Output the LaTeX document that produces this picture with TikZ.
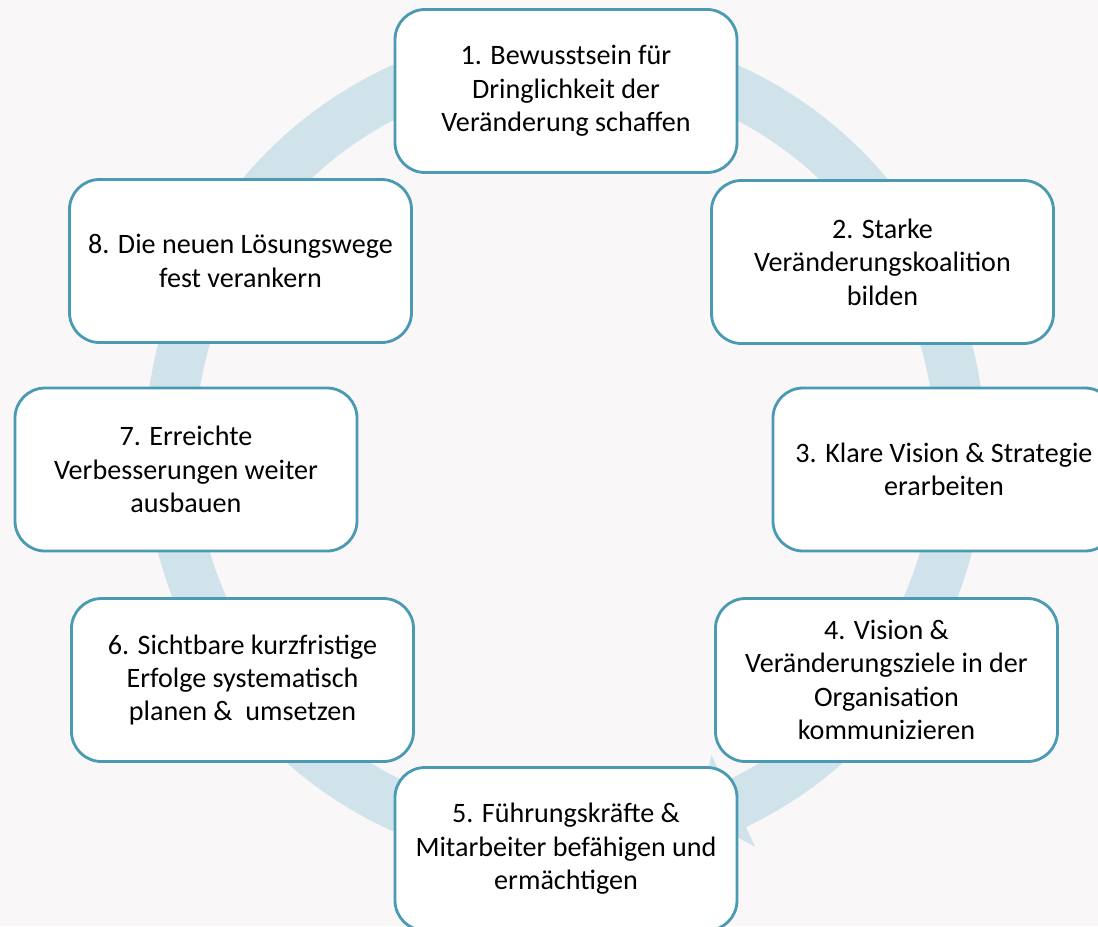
\documentclass[tikz,border=0pt]{standalone}
\usepackage{fontspec}
\setmainfont{Carlito}
\definecolor{bgpaper}{HTML}{F9F7F8}
\definecolor{ringblue}{HTML}{D0E3EA}
\definecolor{rimblue}{HTML}{4A9AB4}

\begin{document}
\begin{tikzpicture}[stepbox/.style={draw=rimblue,line width=1.6pt,fill=white,
      rounded corners=0.6cm,minimum width=6.84cm,minimum height=3.26cm,
      inner sep=0pt,align=center,font=\fontsize{16}{19}\selectfont}]
   \fill[bgpaper] (0,0) rectangle (21.96,-18.52);
   \useasboundingbox (0,0) rectangle (21.96,-18.52);

   % ring with its arrow head
   \begin{scope}[shift={(11.3,-8.96)}]
   \fill[ringblue] (-100:8.4) arc[start angle=-100,end angle=-424.5,radius=8.4]
      -- (-64.5:8.84) -- (-70:7.85) -- (-64.5:6.8) -- (-64.5:7.4)
      arc[start angle=-424.5,end angle=-100,radius=7.4] -- cycle;
   \end{scope}

   \node[stepbox] (a1) at (11.32,-1.82)  {1. Bewusstsein für\\Dringlichkeit der\\Veränderung schaffen};
   \node[stepbox] (a2) at (17.65,-5.24)  {2. Starke\\Veränderungskoalition\\bilden};
   \node[stepbox] (a3) at (18.88,-9.39)  {3. Klare Vision \& Strategie\\erarbeiten};
   \node[stepbox] (a4) at (17.73,-13.6)  {4. Vision \&\\Veränderungsziele in der\\Organisation\\kommunizieren};
   \node[stepbox] (a5) at (11.32,-16.98) {5. Führungskräfte \&\\Mitarbeiter befähigen und\\ermächtigen};
   \node[stepbox] (a6) at (4.85,-13.6)   {6. Sichtbare kurzfristige\\Erfolge systematisch\\planen \&\ \ umsetzen};
   \node[stepbox] (a7) at (3.72,-9.39)   {7. Erreichte\\Verbesserungen weiter\\ausbauen};
   \node[stepbox] (a8) at (4.81,-5.22)   {8. Die neuen Lösungswege\\fest verankern};

\end{tikzpicture}
\end{document}
